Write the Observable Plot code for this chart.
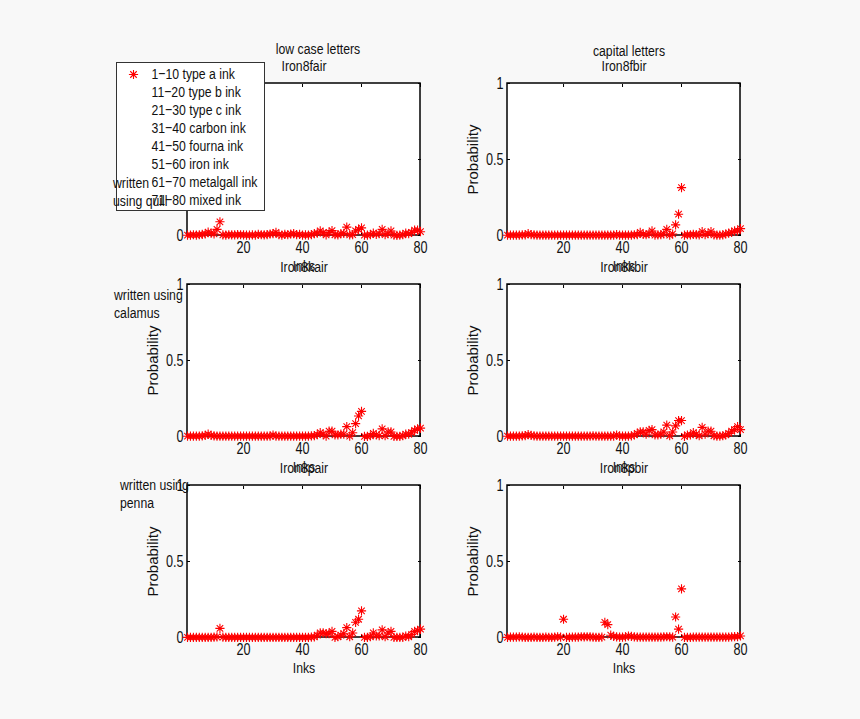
<!DOCTYPE html>
<html><head><meta charset="utf-8">
<script src="https://cdn.jsdelivr.net/npm/d3@7"></script>
<script src="https://cdn.jsdelivr.net/npm/@observablehq/plot@0.6"></script>
<style>
html,body{margin:0;padding:0;background:#f8f8f8;}
#c{position:relative;width:860px;height:719px;overflow:hidden;background:#f8f8f8;font-family:"Liberation Sans",sans-serif;color:#111;}
#c svg{position:absolute;left:0;top:0;background:transparent;overflow:visible;}
.n{position:absolute;font-size:15.5px;line-height:18px;white-space:nowrap;}
</style></head><body><div id="c"></div>
<script>
const columns = ["low case letters", "capital letters"];
const rowsNames = ["quill", "calamus", "penna"];
const legendLabels = ["1−10 type a ink","11−20 type b ink","21−30 type c ink","31−40 carbon ink","41−50 fourna ink","51−60 iron ink","61−70 metalgall ink","71−80 mixed ink"];
const panelTitles = [["Iron8fair","Iron8fbir"],["Iron8kair","Iron8kbir"],["Iron8pair","Iron8pbir"]];

const quillLow = [.002,.002,.005,.003,.005,.008,.01,.022,.015,.01,.04,.09,.004,.003,.005,.004,.004,.006,.005,.004,
.003,.002,.004,.003,.008,.005,.004,.006,.01,.012,.02,.006,.003,.008,.005,.01,.012,.006,.008,.003,
.004,.002,.006,.012,.015,.03,.018,.004,.02,.032,.005,.004,.012,.014,.055,.004,.006,.03,.04,.05,
.003,.003,.006,.015,.008,.012,.04,.006,.012,.03,.002,.001,.002,.005,.015,.012,.02,.035,.035,.025];
const quillCap = [.002,.002,.002,.003,.002,.004,.004,.012,.006,.004,.002,.002,.002,.002,.002,.002,.002,.002,.002,.002,
.002,.002,.002,.002,.002,.002,.003,.002,.002,.003,.002,.002,.002,.002,.002,.002,.002,.006,.003,.002,
.002,.002,.003,.005,.006,.02,.008,.005,.012,.03,.003,.004,.006,.01,.04,.002,.01,.07,.14,.315,
.002,.005,.004,.008,.006,.004,.025,.006,.012,.025,.004,.002,.002,.004,.01,.015,.02,.03,.03,.045];
const calamusLow = [.002,.002,.002,.002,.003,.004,.008,.015,.008,.004,.002,.002,.002,.002,.002,.002,.002,.002,.002,.002,
.002,.002,.002,.002,.002,.002,.002,.002,.002,.01,.003,.002,.002,.002,.002,.002,.002,.002,.002,.002,
.002,.002,.004,.006,.012,.025,.015,.003,.035,.035,.01,.01,.015,.015,.065,.002,.025,.085,.135,.165,
.001,.001,.005,.02,.01,.006,.05,.005,.03,.03,.001,.001,.001,.005,.015,.015,.025,.04,.05,.055];
const calamusCap = [.002,.002,.002,.002,.003,.004,.006,.012,.007,.004,.002,.002,.002,.002,.002,.002,.002,.002,.002,.002,
.002,.002,.002,.002,.002,.002,.002,.002,.003,.004,.002,.002,.002,.002,.002,.002,.003,.01,.003,.002,
.002,.003,.004,.01,.02,.03,.03,.015,.04,.045,.01,.01,.015,.03,.075,.005,.03,.07,.105,.105,
.001,.01,.01,.025,.015,.005,.06,.015,.035,.035,.005,.002,.002,.005,.01,.02,.035,.045,.065,.045];
const pennaLow = [.001,.001,.001,.001,.001,.001,.001,.001,.001,.002,.004,.06,.002,.001,.001,.001,.001,.001,.001,.001,
.001,.001,.001,.001,.001,.001,.001,.001,.001,.001,.001,.001,.001,.001,.001,.001,.001,.001,.001,.001,
.001,.001,.002,.004,.015,.03,.03,.025,.025,.04,.001,.005,.015,.025,.065,.005,.03,.1,.12,.175,
.001,.001,.005,.03,.01,.01,.05,.005,.03,.04,.001,.001,.001,.001,.01,.005,.02,.04,.045,.055];
const pennaCap = [.001,.002,.002,.003,.004,.002,.001,.001,.001,.002,.001,.001,.001,.002,.001,.001,.003,.005,.002,.12,
.001,.001,.002,.002,.003,.005,.004,.005,.004,.002,.001,.001,.002,.1,.085,.015,.008,.004,.002,.002,
.004,.01,.007,.004,.003,.002,.002,.003,.002,.002,.003,.002,.002,.004,.005,.004,.002,.135,.055,.32,
.001,.001,.001,.002,.002,.002,.002,.002,.003,.002,.002,.002,.002,.002,.002,.003,.004,.006,.006,.01];

const xTicks = [20,40,60,80];
const yTicks = [0,0.5,1];
const annotations = [
  {lines:["written","using quill"],left:113,top:174},
  {lines:["written using","calamus"],left:114,top:286},
  {lines:["written using","penna"],left:120,top:476}
];
const headings = [{t:columns[0],cx:318,top:40},{t:columns[1],cx:629,top:42}];

const grid = [[quillLow,quillCap],[calamusLow,calamusCap],[pennaLow,pennaCap]];
const points = [];
const frames = [];
grid.forEach((r,i)=>r.forEach((vals,j)=>{
  frames.push({col:columns[j],row:rowsNames[i],title:panelTitles[i][j]});
  vals.forEach((v,k)=>points.push({col:columns[j],row:rowsNames[i],ink:k+1,value:v}));
}));
const fam = '"Liberation Sans",sans-serif';
// eight-armed star, as the reference's asterisk marker
const star = {draw(ctx,size){
  const r=Math.sqrt(size/Math.PI);
  for(let a=0;a<4;a++){
    const t=a*Math.PI/4, dx=r*Math.cos(t), dy=r*Math.sin(t);
    ctx.moveTo(-dx,-dy);ctx.lineTo(dx,dy);
  }
}};
const markerStyle = {symbol:star,r:4.6,stroke:"#ff0000",strokeWidth:1.1};
const axisCommon = {facetAnchor:null, tickSize:-3, stroke:"#000", strokeWidth:1};
const textSize = 15.5;
const main = Plot.plot({
  width:860,height:719,
  marginLeft:187,marginRight:120,marginTop:83,marginBottom:82,
  style:{fontFamily:fam,fontSize:"16px",background:"transparent",color:"#111"},
  fx:{domain:columns,paddingInner:87/320,paddingOuter:0,axis:null,label:null},
  fy:{domain:rowsNames,paddingInner:49/201,paddingOuter:0,axis:null,label:null},
  x:{domain:[1,80],axis:null},
  y:{domain:[0,1],axis:null},
  marks:[
    Plot.rect(frames,{fx:"col",fy:"row",x1:()=>1,x2:()=>80,y1:()=>0,y2:()=>1,fill:"white",stroke:"#000",strokeWidth:1.5}),
    Plot.axisX({...axisCommon,anchor:"bottom",ticks:xTicks,tickPadding:9,label:null,fontSize:16}),
    Plot.axisX({...axisCommon,anchor:"top",ticks:xTicks,tickFormat:()=>"",label:null}),
    Plot.axisY({...axisCommon,anchor:"left",ticks:yTicks,tickPadding:7,tickFormat:d=>String(d),label:null,fontSize:16}),
    Plot.axisY({...axisCommon,anchor:"right",ticks:yTicks,tickFormat:()=>"",label:null}),
    Plot.dot(points,{x:"ink",y:"value",fx:"col",fy:"row",...markerStyle}),
    Plot.text(frames,{fx:"col",fy:"row",text:"title",frameAnchor:"top",dy:-24,fontSize:textSize,fill:"#111"}),
    Plot.text(frames,{fx:"col",fy:"row",text:()=>"Inks",frameAnchor:"bottom",dy:35,fontSize:textSize,fill:"#111"}),
    Plot.text(frames,{fx:"col",fy:"row",text:()=>"Probability",frameAnchor:"left",textAnchor:"middle",dx:-34,rotate:-90,fontSize:15,fill:"#111",className:"prob"})
  ]
});
const c = document.getElementById("c");
c.appendChild(main);
headings.forEach(h=>{
  const d=document.createElement("div");d.className="n";d.textContent=h.t;
  d.style.left=h.cx+"px";d.style.top=h.top+"px";d.style.transform="translateX(-50%) scaleX(.79)";c.appendChild(d);
});
const legend = Plot.plot({
  width:148,height:148,margin:0,
  style:{fontFamily:fam,background:"white",color:"#111"},
  x:{axis:null},
  y:{type:"point",domain:legendLabels,padding:0,insetTop:11,insetBottom:10,axis:null},
  marks:[
    Plot.frame({stroke:"#333",strokeWidth:1}),
    Plot.dot([legendLabels[0]],{y:d=>d,frameAnchor:"left",dx:17,...markerStyle}),
    Plot.text(legendLabels,{y:d=>d,text:d=>d,frameAnchor:"left",dx:35,textAnchor:"start",fontSize:textSize,fill:"#111"})
  ]
});
legend.style.left="116px";legend.style.top="62px";
legend.style.background="white";
c.appendChild(legend);
annotations.forEach(a=>{
  const d=document.createElement("div");d.className="n";d.innerHTML=a.lines.join("<br>");
  d.style.left=a.left+"px";d.style.top=a.top+"px";d.style.transformOrigin="left top";d.style.transform="scaleX(.79)";c.appendChild(d);
});
// the reference's lettering is condensed horizontally
c.querySelectorAll("svg text").forEach(t=>{
  if(t.closest(".prob")||!t.textContent) return;
  const len=t.getComputedTextLength();
  if(len>0){t.setAttribute("textLength",len*0.79);t.setAttribute("lengthAdjust","spacingAndGlyphs");}
});
</script></body></html>
